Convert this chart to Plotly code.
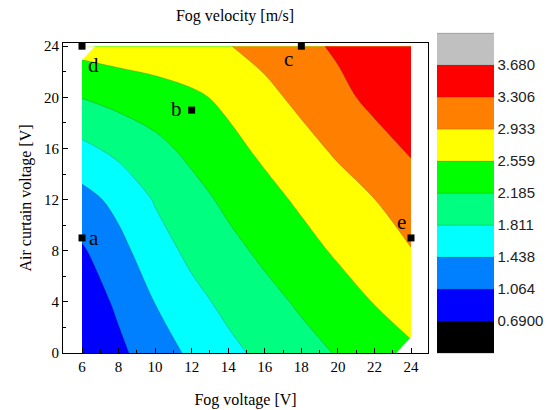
import plotly.graph_objects as go

# ---------------- data ----------------
fog_voltage = [6, 8, 10, 12, 14, 16, 18, 20, 22, 24]          # x [V]
air_voltage = [0, 4, 8, 12, 16, 20, 24]                       # y [V]
# Fog velocity [m/s], one row per air-curtain voltage
velocity = [
    [0.76, 0.99, 1.249, 1.505, 1.720, 1.900, 2.056, 2.21, 2.357, 2.50],
    [0.86, 1.125, 1.446, 1.70, 1.905, 2.072, 2.239, 2.405, 2.572, 2.72],
    [1.02, 1.327, 1.647, 1.901, 2.082, 2.261, 2.437, 2.608, 2.764, 2.92],
    [1.31, 1.54, 1.840, 2.059, 2.263, 2.446, 2.619, 2.774, 2.929, 3.12],
    [1.73, 1.907, 2.091, 2.274, 2.457, 2.637, 2.814, 2.992, 3.173, 3.35],
    [2.195, 2.301, 2.38, 2.49, 2.64, 2.837, 3.022, 3.211, 3.40, 3.52],
    [2.69, 2.747, 2.804, 2.862, 2.919, 3.052, 3.211, 3.36, 3.49, 3.62],
]
level_values = [0.69, 1.06375, 1.4375, 1.81125, 2.185, 2.55875, 2.9325, 3.30625, 3.68]
level_labels = ["0.6900", "1.064", "1.438", "1.811", "2.185", "2.559", "2.933", "3.306", "3.680"]
level_step = 0.37375

point_names = ["a", "b", "c", "d", "e"]
point_x = [6, 12, 18, 6, 24]
point_y = [9, 19, 24, 24, 9]
# label offsets in pixels (xshift, yshift)
label_dx = [12, -15, -13, 11, -10]
label_dy = [0, 1, -13, -19, 16]

# corners outside the measured data hull (left blank in the original)
hull_cut_tl_x = [6, 6, 6.7, 6]
hull_cut_tl_y = [22.9, 24, 24, 22.9]
hull_cut_br_x = [23.2, 24, 24, 23.2]
hull_cut_br_y = [0, 0, 1.25, 0]

# ---------------- colours ----------------
band_colors = ["#FFFFFF",  # below range (hidden)
               "#000000", "#0000FF", "#0080FF", "#00FFFF", "#00FF80",
               "#00FF00", "#FFFF00", "#FF8000", "#FF0000", "#C0C0C0",
               "#FFFFFF"]  # above range (hidden)
n = len(band_colors) - 1
colorscale = []
for k, c in enumerate(band_colors):
    lo = max(0.0, (k - 0.5) / n)
    hi = min(1.0, (k + 0.5) / n)
    colorscale.append([lo, c])
    colorscale.append([hi, c])

serif = "Liberation Serif, Times New Roman, serif"
sans = "Liberation Sans, Arial, sans-serif"

fig = go.Figure()
fig.add_trace(go.Contour(
    x=fog_voltage, y=air_voltage, z=velocity,
    contours=dict(start=level_values[0] - level_step,
                  end=level_values[-1] + level_step + 0.005,
                  size=level_step, coloring="fill"),
    colorscale=colorscale,
    line=dict(width=0.5, color="rgba(70,70,70,0.55)"),
    colorbar=dict(
        lenmode="pixels", len=352, thicknessmode="pixels", thickness=57,
        x=1.0247, xanchor="left", xpad=0, y=0.516, yanchor="middle", ypad=0,
        outlinewidth=0, ticks="", tickvals=level_values, ticktext=level_labels,
        tickfont=dict(family=sans, size=15, color="#222"),
    ),
    hoverinfo="skip",
))

for hx, hy in ((hull_cut_tl_x, hull_cut_tl_y), (hull_cut_br_x, hull_cut_br_y)):
    fig.add_trace(go.Scatter(
        x=hx, y=hy, mode="lines", fill="toself", fillcolor="white",
        line=dict(width=0, color="white"), showlegend=False, hoverinfo="skip",
    ))

fig.add_trace(go.Scatter(
    x=point_x, y=point_y, mode="markers",
    marker=dict(symbol="square", size=7, color="black"),
    cliponaxis=False, showlegend=False, hoverinfo="skip",
))

for name, px_, py_, dx, dy in zip(point_names, point_x, point_y, label_dx, label_dy):
    fig.add_annotation(x=px_, y=py_, text=name, showarrow=False,
                       xshift=dx, yshift=dy,
                       font=dict(family=serif, size=21, color="black"))

axis_common = dict(showgrid=False, zeroline=False, showline=True, linecolor="black",
                   linewidth=1, mirror=True, ticks="inside", ticklen=5, tickcolor="black",
                   automargin=False,
                   tickfont=dict(family=serif, size=15, color="black"))

fig.update_layout(
    width=552, height=410,
    margin=dict(l=63, r=124, t=43, b=57, autoexpand=False),
    paper_bgcolor="white", plot_bgcolor="white",
    showlegend=False,
    title=dict(text="Fog velocity [m/s]", x=235 / 552, xref="container", xanchor="center",
               y=1 - 15.5 / 410, yref="container", yanchor="middle",
               font=dict(family=serif, size=16, color="black")),
    xaxis=dict(range=[4.96, 24.93], tick0=6, dtick=2,
               minor=dict(ticks="inside", ticklen=3, dtick=1, tick0=6, tickcolor="black"),
               title=dict(text="Fog voltage [V]", standoff=19,
                          font=dict(family=serif, size=16, color="black")),
               **axis_common),
    yaxis=dict(range=[0, 24.25], tick0=0, dtick=4,
               minor=dict(ticks="inside", ticklen=3, dtick=2, tick0=0, tickcolor="black"),
               title=dict(text="Air curtain voltage [V]", standoff=8,
                          font=dict(family=serif, size=16, color="black")),
               **axis_common),
)

fig.write_html("out.html")
